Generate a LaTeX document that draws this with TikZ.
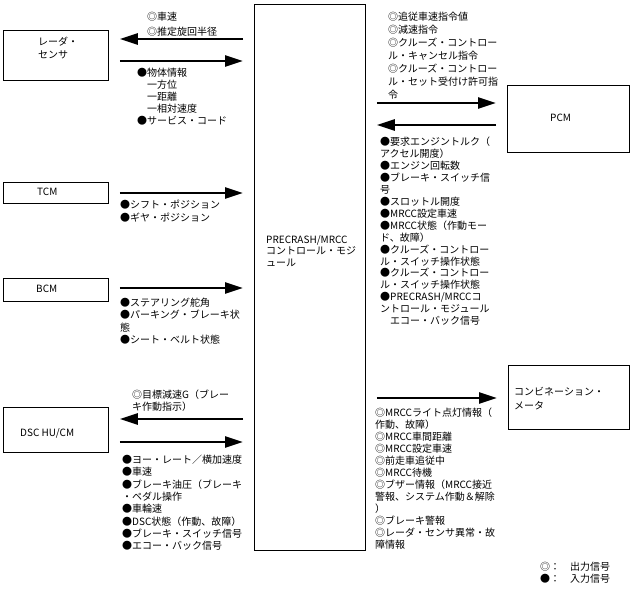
\documentclass[tikz,border=0pt]{standalone}
\usepackage{fontspec}
\setmainfont{Noto Sans CJK JP}
\usetikzlibrary{arrows.meta}

\begin{document}
\begin{tikzpicture}[
  x=1pt,y=-1pt,
  >={Triangle[length=18pt,width=11pt]},
  unit/.style={draw,line width=0.8pt,inner sep=0pt,anchor=north west},
  sig/.style={->,line width=2.6pt,shorten <=11pt,shorten >=11pt},
  sigtxt/.style={anchor=north west,align=left,inner sep=0pt,font=\fontsize{10pt}{12pt}\selectfont},
  unittxt/.style={sigtxt,font=\fontsize{10pt}{13pt}\selectfont}
]
  \useasboundingbox (0,0) rectangle (631,591);

  % units
  \node[unit,minimum width=105pt,minimum height=50pt] (radar) at (3,30) {};
  \node[unit,minimum width=105pt,minimum height=21pt] (tcm) at (3,182) {};
  \node[unit,minimum width=105pt,minimum height=23pt] (bcm) at (3,278) {};
  \node[unit,minimum width=105pt,minimum height=45pt] (dsc) at (3,407) {};
  \node[unit,minimum width=111pt,minimum height=546pt] (ctrl) at (254,4) {};
  \node[unit,minimum width=122pt,minimum height=67pt] (pcm) at (507,85) {};
  \node[unit,minimum width=121pt,minimum height=64pt] (meter) at (508,365) {};

  \node[unittxt] (radar-t) at (38,37) {レーダ・\\センサ};
  \node[unittxt] (tcm-t) at (37,188.3) {TCM};
  \node[unittxt] (bcm-t) at (36,285.3) {BCM};
  \node[unittxt] (dsc-t) at (20,428) {DSC HU/CM};
  \node[unittxt,font=\fontsize{10pt}{11.5pt}\selectfont] (ctrl-t) at (266,235)
    {PRECRASH/MRCC\\コントロール・モジ\\ュール};
  \node[unittxt] (pcm-t) at (550,114.3) {PCM};
  \node[unittxt,font=\fontsize{10pt}{14pt}\selectfont] (meter-t) at (514,387)
    {コンビネーション・\\メータ};

  % signals
  \draw[sig] (ctrl.west |- 0,39) -- (radar.east |- 0,39);
  \draw[sig] (radar.east |- 0,61) -- (ctrl.west |- 0,61);
  \draw[sig] (tcm.east |- 0,193) -- (ctrl.west |- 0,193);
  \draw[sig] (bcm.east |- 0,288) -- (ctrl.west |- 0,288);
  \draw[sig] (ctrl.west |- 0,419) -- (dsc.east |- 0,419);
  \draw[sig] (dsc.east |- 0,442) -- (ctrl.west |- 0,442);
  \draw[sig] (ctrl.east |- 0,103) -- (pcm.west |- 0,103);
  \draw[sig] (pcm.west |- 0,125) -- (ctrl.east |- 0,125);
  \draw[sig] (ctrl.east |- 0,398) -- (meter.west |- 0,398);

  \node[sigtxt,font=\fontsize{10pt}{15pt}\selectfont] (radar-o) at (147,12) {◎車速\\◎推定旋回半径};
  \node[sigtxt] (radar-i) at (137,68)
    {●物体情報\\　一方位\\　一距離\\　一相対速度\\●サービス・コード};
  \node[sigtxt,font=\fontsize{10pt}{13pt}\selectfont] (tcm-i) at (120,200)
    {●シフト・ポジション\\●ギヤ・ポジション};
  \node[sigtxt,font=\fontsize{10pt}{12.3pt}\selectfont] (bcm-i) at (120,298)
    {●ステアリング舵角\\●パーキング・ブレーキ状\\態\\●シート・ベルト状態};
  \node[sigtxt] (dsc-o) at (132,390) {◎目標減速G（ブレー\\キ作動指示）};
  \node[sigtxt,font=\fontsize{10pt}{12.3pt}\selectfont] (dsc-i) at (122,455)
    {●ヨー・レート／横加速度\\●車速\\●ブレーキ油圧（ブレーキ\\・ペダル操作\\●車輪速\\
     ●DSC状態（作動、故障）\\●ブレーキ・スイッチ信号\\●エコー・バック信号};
  \node[sigtxt,font=\fontsize{10pt}{13pt}\selectfont] (pcm-o) at (388,12)
    {◎追従車速指令値\\◎減速指令\\◎クルーズ・コントロー\\ル・キャンセル指令\\
     ◎クルーズ・コントロー\\ル・セット受付け許可指\\令};
  \node[sigtxt,font=\fontsize{10pt}{11.93pt}\selectfont] (pcm-i) at (380,137)
    {●要求エンジントルク（\\アクセル開度）\\●エンジン回転数\\●ブレーキ・スイッチ信\\号\\
     ●スロットル開度\\●MRCC設定車速\\●MRCC状態（作動モー\\ド、故障）\\
     ●クルーズ・コントロー\\ル・スイッチ操作状態\\●クルーズ・コントロー\\ル・スイッチ操作状態\\
     ●PRECRASH/MRCCコ\\ントロール・モジュール\\　エコー・バック信号};
  \node[sigtxt] (meter-o) at (375,408)
    {◎MRCCライト点灯情報（\\作動、故障）\\◎MRCC車間距離\\◎MRCC設定車速\\◎前走車追従中\\
     ◎MRCC待機\\◎ブザー情報（MRCC接近\\警報、システム作動＆解除\\）\\◎ブレーキ警報\\
     ◎レーダ・センサ異常・故\\障情報};

  % legend
  \node[sigtxt] (legend) at (540,562) {◎：　出力信号\\●：　入力信号};
\end{tikzpicture}
\end{document}
